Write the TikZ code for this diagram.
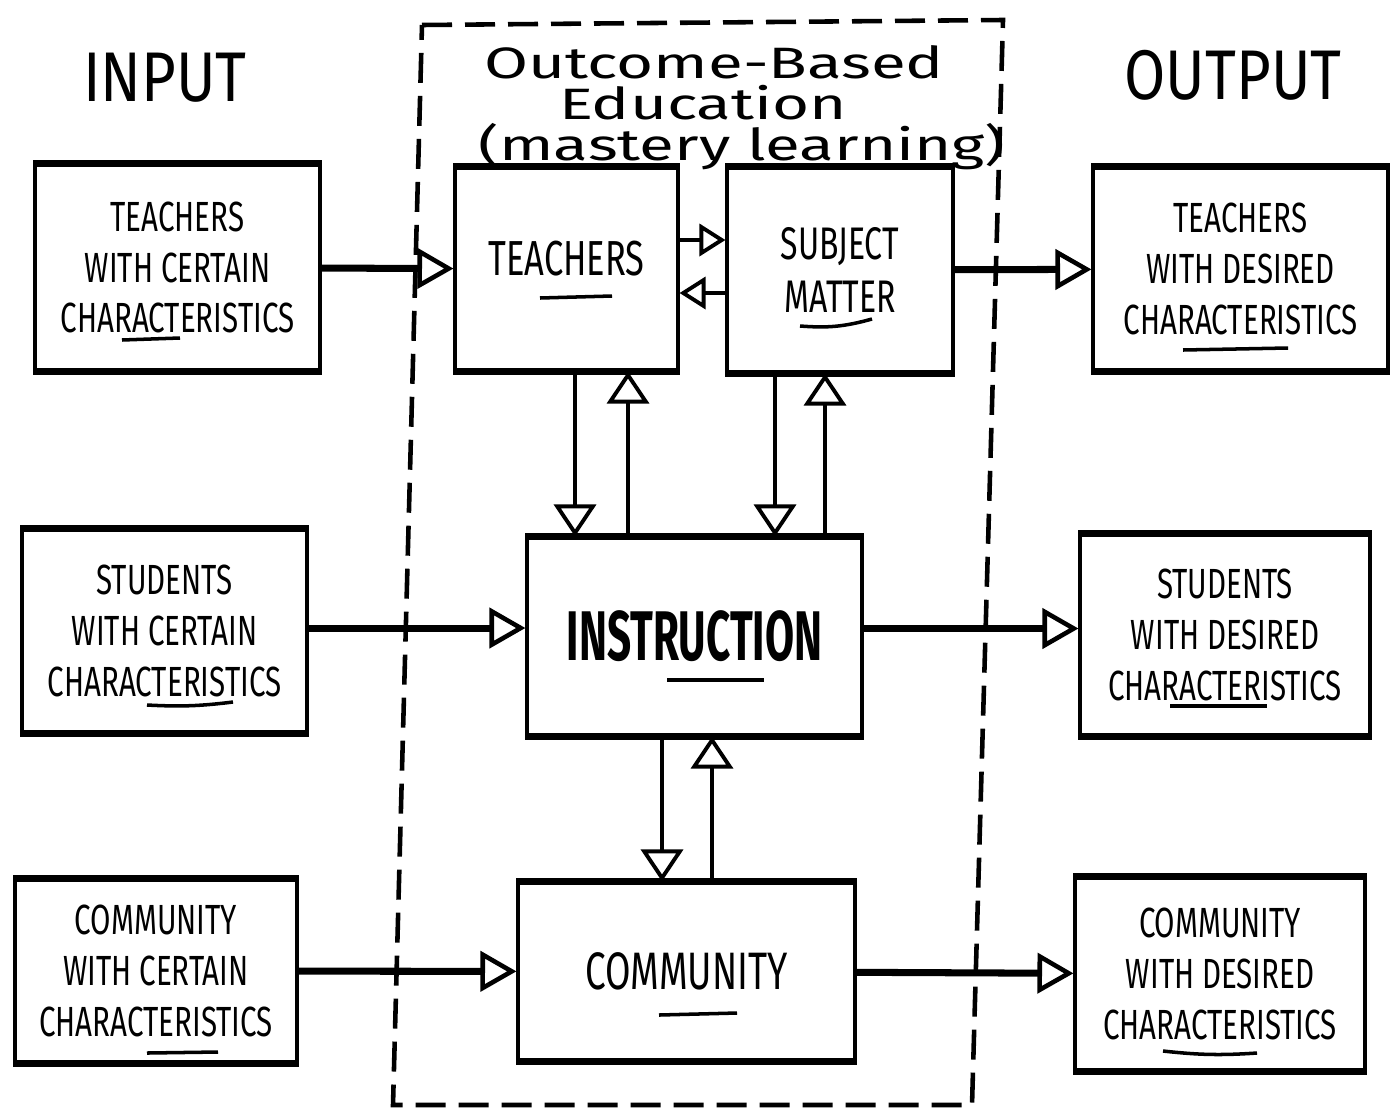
\documentclass[tikz,border=0pt]{standalone}
\usepackage{fontspec}
\usetikzlibrary{arrows.meta}
\setmainfont{Fira Sans}
\newfontfamily\handfont[FakeStretch=0.7]{Fira Sans}
\newfontfamily\bigfont[FakeStretch=0.85]{Fira Sans}
\newfontfamily\instrfont[FakeStretch=0.6]{Fira Sans}
\newfontfamily\widefont[FakeStretch=1.45]{Fira Sans}

\begin{document}
\begin{tikzpicture}[x=0.1mm, y=-0.1mm]
        \tikzstyle{blk}=[draw, line width=0.9pt, inner sep=0pt, align=center,
            font=\handfont\fontsize{12}{14.5}\selectfont,
            append after command={(\tikzlastnode.north west) edge[line width=2.2pt] (\tikzlastnode.north east)
                (\tikzlastnode.south west) edge[line width=2.2pt] (\tikzlastnode.south east)}]
        \tikzstyle{harrow}=[line width=2pt, -{Triangle[open, length=3.6mm, width=4mm, line width=1.3pt]}]
        \tikzstyle{varrow}=[line width=1.3pt, -{Triangle[open, length=3.2mm, width=4.2mm, line width=1.1pt]}]
        \tikzstyle{sarrow}=[line width=1.3pt, -{Triangle[open, length=2.6mm, width=3.2mm, line width=1.1pt]}]
        \tikzstyle{uline}=[line width=1pt]
        \tikzstyle{obe}=[anchor=base, inner sep=0pt, font=\widefont\fontsize{12.5}{14}\selectfont]
        \useasboundingbox (0,0) rectangle (1397,1116);
        % outcome based education frame
        \draw[line width=1.3pt, dash pattern=on 3mm off 1.3mm] (422,25) -- (1003,20) -- (972,1105) -- (393,1105) -- cycle;
        \node[font=\bigfont\fontsize{20}{24}\selectfont] (inp) at (165,78) {INPUT};
        \node[font=\bigfont\fontsize{20}{24}\selectfont] (outp) at (1233,75) {OUTPUT};
        \node[obe] (obe1) at (714,78) {Outcome-Based};
        \node[obe] (obe2) at (703,119) {Education};
        \node[obe] (obe3) at (742,160) {(mastery learning)};
        % input column
        \node[blk, minimum width=28.5mm, minimum height=20.5mm] (tin) at (177.5,267.5) {TEACHERS\\WITH CERTAIN\\CHARACTERISTICS};
        \node[blk, minimum width=28.5mm, minimum height=20.2mm] (sin) at (164.5,631) {STUDENTS\\WITH CERTAIN\\CHARACTERISTICS};
        \node[blk, minimum width=28.2mm, minimum height=18.2mm] (cin) at (156,971) {COMMUNITY\\WITH CERTAIN\\CHARACTERISTICS};
        % middle
        \node[blk, minimum width=22.3mm, minimum height=20.2mm, text depth=2.2mm, font=\handfont\fontsize{14}{17}\selectfont] (tch) at (566.5,269) {TEACHERS};
        \node[blk, minimum width=22.6mm, minimum height=20.4mm, font=\handfont\fontsize{13}{15}\selectfont] (sub) at (840,270) {SUBJECT\\MATTER};
        \node[blk, minimum width=33.5mm, minimum height=19.7mm, font=\instrfont\bfseries\fontsize{20}{24}\selectfont] (ins) at (694.5,636.5) {INSTRUCTION};
        \node[blk, minimum width=33.7mm, minimum height=17.7mm, font=\handfont\fontsize{15}{18}\selectfont] (com) at (686.5,971.5) {COMMUNITY};
        % output column
        \node[blk, minimum width=29.5mm, minimum height=20.2mm] (tout) at (1240.5,269) {TEACHERS\\WITH DESIRED\\CHARACTERISTICS};
        \node[blk, minimum width=29mm, minimum height=20mm] (sout) at (1225,635) {STUDENTS\\WITH DESIRED\\CHARACTERISTICS};
        \node[blk, minimum width=29mm, minimum height=19.2mm] (cout) at (1220,974) {COMMUNITY\\WITH DESIRED\\CHARACTERISTICS};
        % underlines
        \draw[uline] (122,340) -- (180,338);
        \draw[uline] (147,705) to[bend right=5] (233,702);
        \draw[uline] (147,1053) -- (218,1052);
        \draw[uline] (540,298) -- (612,296);
        \draw[uline] (800,326) to[bend right=10] (872,319);
        \draw[uline] (667,680) -- (764,680);
        \draw[uline] (659,1015) -- (737,1013);
        \draw[uline] (1183,350) -- (1288,348);
        \draw[uline] (1170,706) -- (1267,706);
        \draw[uline] (1163,1051) to[bend right=5] (1257,1053);
        % connectors
        \draw[harrow] (tin) -- (tch);
        \draw[harrow] (sub) -- (tout);
        \draw[harrow] ([yshift=0.3mm]sin.east) -- ([yshift=0.3mm]sin.east -| ins.west);
        \draw[harrow] ([yshift=0.8mm]ins.east) -- ([yshift=0.8mm]ins.east -| sout.west);
        \draw[harrow] (cin) -- (com);
        \draw[harrow] (com) -- (cout);
        \draw[sarrow] ([yshift=2.9mm]tch.east) -- ([yshift=2.9mm]tch.east -| sub.west);
        \draw[sarrow] ([yshift=-2.3mm]sub.west) -- ([yshift=-2.3mm]sub.west -| tch.east);
        \draw[varrow] ([xshift=0.85mm]tch.south) -- ([xshift=0.85mm]tch.south |- ins.north);
        \draw[varrow] ([xshift=6.15mm]tch.south |- ins.north) -- ([xshift=6.15mm]tch.south);
        \draw[varrow] ([xshift=-6.5mm]sub.south) -- ([xshift=-6.5mm]sub.south |- ins.north);
        \draw[varrow] ([xshift=-1.5mm]sub.south |- ins.north) -- ([xshift=-1.5mm]sub.south);
        \draw[varrow] ([xshift=-3.25mm]ins.south) -- ([xshift=-3.25mm]ins.south |- com.north);
        \draw[varrow] ([xshift=1.75mm]ins.south |- com.north) -- ([xshift=1.75mm]ins.south);
    \end{tikzpicture}
\end{document}
